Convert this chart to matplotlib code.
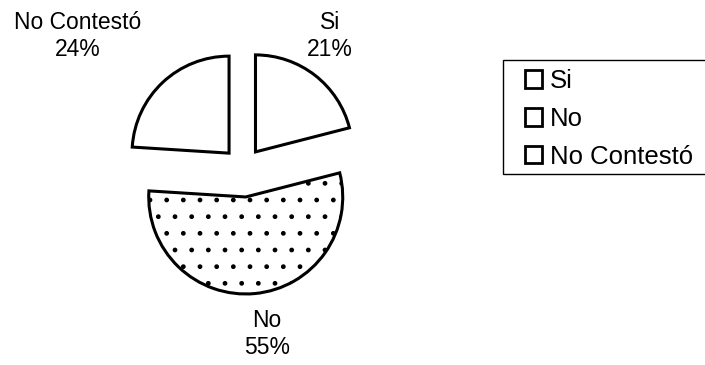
import matplotlib
matplotlib.use("Agg")
import matplotlib.pyplot as plt
from matplotlib.patches import Rectangle

categories = ["Si", "No", "No Contestó"]
values = [21, 55, 24]
pct_labels = ["21%", "55%", "24%"]
explode = [0.21, 0.30, 0.21]
hatches = [None, ".", None]

plt.rcParams['font.family'] = ['Liberation Sans', 'DejaVu Sans']
plt.rcParams['hatch.linewidth'] = 1.0

W, H = 705, 365
fig = plt.figure(figsize=(W / 100, H / 100), dpi=100)
ax = fig.add_axes([0, 0, 1, 1])

wedges, _ = ax.pie(values, explode=explode, startangle=90, counterclock=False,
                   radius=1.0, colors=["white"] * 3,
                   wedgeprops=dict(edgecolor="black", linewidth=2.2))
for w, h in zip(wedges, hatches):
    if h:
        w.set_hatch(h)

# 1 data unit = R pixels, pie centre at (cx, cy) pixels from top-left
R = 97.0
cx, cy = 243.0, 168.0
ax.set_aspect("auto")
ax.set_xlim(-cx / R, (W - cx) / R)
ax.set_ylim(-(H - cy) / R, cy / R)
ax.set_axis_off()

def px(x, y):
    return ((x - cx) / R, (cy - y) / R)

label_pos = {"Si": px(330, 36), "No Contestó": px(78, 36), "No": px(267, 334)}
for cat, p in zip(categories, pct_labels):
    x, y = label_pos[cat]
    ax.text(x, y, f"{cat}\n{p}", ha="center", va="center", fontsize=16.5,
            linespacing=1.2)

leg = fig.legend(wedges, categories, loc="upper left",
                 bbox_to_anchor=(525 / W, 1 - 69 / H), borderaxespad=0,
                 fontsize=18.5, frameon=False,
                 handlelength=0.66, handleheight=0.66, handletextpad=0.3,
                 labelspacing=0.54, borderpad=0)
for h in leg.legend_handles:
    h.set_hatch(None)
    h.set_linewidth(2.0)

fig.add_artist(Rectangle((503 / W, 1 - 174 / H), 0.5, 114 / H,
                         transform=fig.transFigure, fill=False,
                         edgecolor="black", linewidth=1.0))

fig.savefig("out.png", dpi=100)
